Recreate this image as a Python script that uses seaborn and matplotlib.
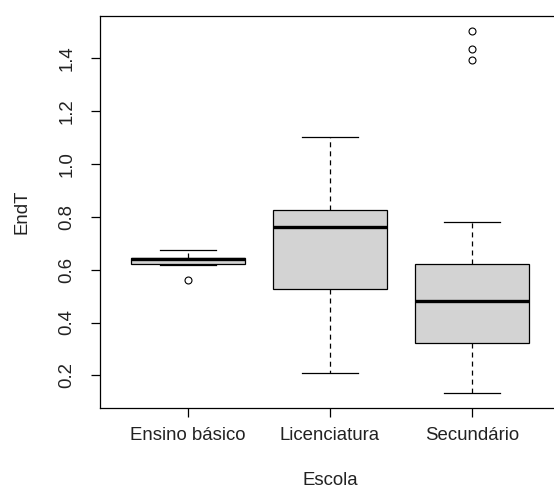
import matplotlib
matplotlib.use("Agg")
import matplotlib.pyplot as plt
import numpy as np
import pandas as pd
import seaborn as sns

# Categories and EndT observations per school level
escolas = ["Ensino básico", "Licenciatura", "Secundário"]
endt_ensino_basico = [0.562, 0.617, 0.620, 0.620, 0.639, 0.639, 0.644, 0.644, 0.673]
endt_licenciatura = [0.211, 0.527, 0.760, 0.824, 1.100]
endt_secundario = [0.132, 0.321, 0.321, 0.321, 0.321, 0.480, 0.480, 0.480, 0.480,
                   0.480, 0.622, 0.622, 0.622, 0.782, 1.391, 1.435, 1.504]
y_ticks = [0.2, 0.4, 0.6, 0.8, 1.0, 1.2, 1.4]
y_tick_labels = ["0.2", "0.4", "0.6", "0.8", "1.0", "1.2", "1.4"]

df = pd.DataFrame({
    "Escola": [escolas[0]] * len(endt_ensino_basico)
              + [escolas[1]] * len(endt_licenciatura)
              + [escolas[2]] * len(endt_secundario),
    "EndT": endt_ensino_basico + endt_licenciatura + endt_secundario,
})

plt.rcParams["font.family"] = ["Liberation Sans", "DejaVu Sans"]
plt.rcParams["lines.scale_dashes"] = False

fig = plt.figure(figsize=(5.54, 4.97), dpi=100)
ax = fig.add_axes([0.1805, 0.1791, 0.8303, 0.7887])

line_w = 0.9
sns.boxplot(
    data=df, x="Escola", y="EndT", order=escolas, ax=ax,
    color="#D3D3D3", saturation=1, width=0.8, linecolor="black",
    linewidth=line_w, whis=1.5,
    boxprops=dict(edgecolor="black", linewidth=line_w),
    whiskerprops=dict(color="black", linewidth=line_w, linestyle=(0, (3.6, 2.9))),
    capprops=dict(color="black", linewidth=line_w),
    medianprops=dict(color="black", linewidth=2.4),
    flierprops=dict(marker="o", markersize=5, markerfacecolor="none",
                    markeredgecolor="black", markeredgewidth=0.8),
)

ax.set_xlim(-0.62, 2.62)
ax.set_ylim(0.077, 1.559)
ax.set_yticks(y_ticks)
ax.set_yticklabels(y_tick_labels, rotation=90, va="center")

# Frame runs past the right edge of the canvas, so only three sides show
for side in ["left", "top", "bottom"]:
    ax.spines[side].set_visible(True)
    ax.spines[side].set_color("black")
    ax.spines[side].set_linewidth(line_w)
ax.spines["right"].set_visible(False)

ax.tick_params(axis="both", direction="out", length=6.8, width=line_w,
               color="black", labelsize=13.4, labelcolor="#222222")
ax.tick_params(axis="y", pad=10.8)
ax.tick_params(axis="x", pad=7)
ax.grid(False)

ax.set_xlabel("Escola", fontsize=13.4, color="#222222")
ax.set_ylabel("EndT", fontsize=13.4, color="#222222")
ax.xaxis.set_label_coords(0.5, -0.163)
ax.yaxis.set_label_coords(-0.15, 0.5)

fig.savefig("out.png", dpi=100)
